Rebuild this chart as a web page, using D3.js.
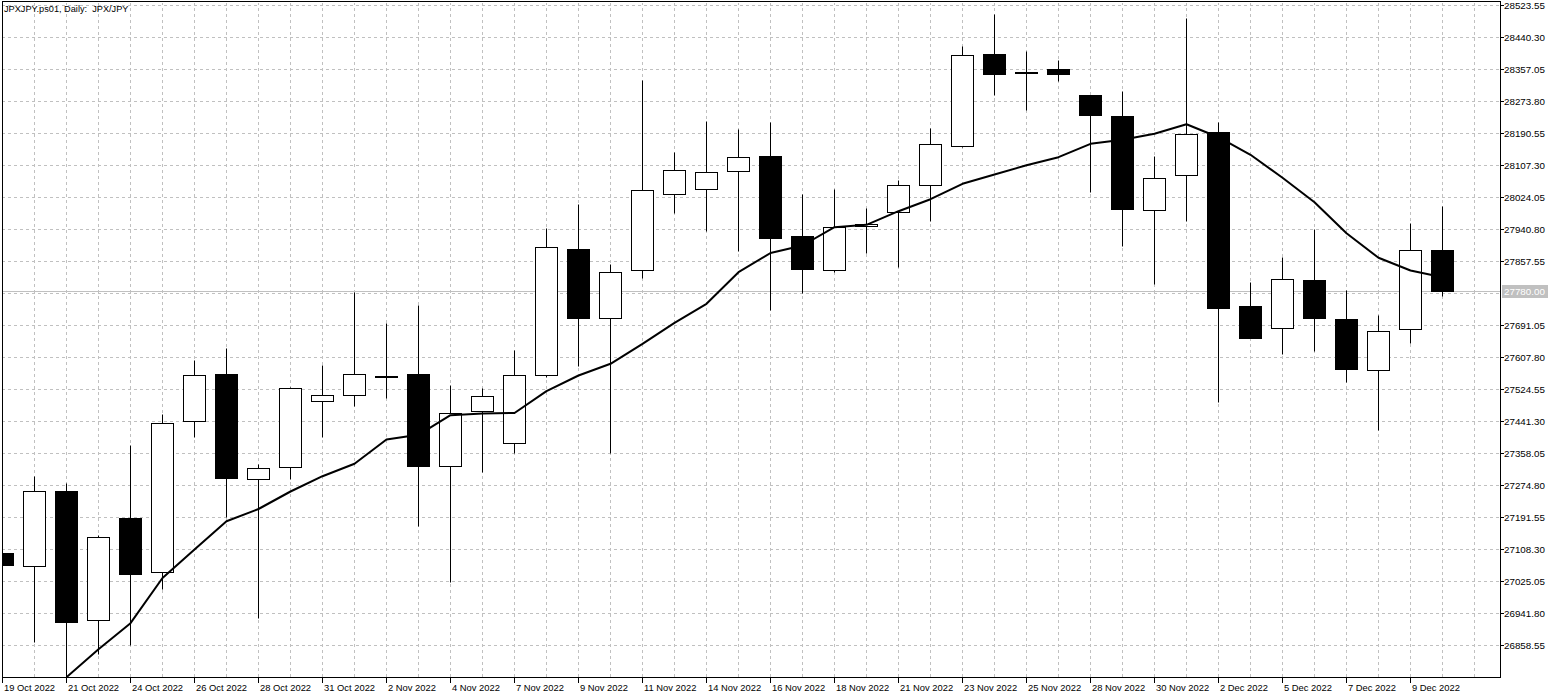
<!DOCTYPE html>
<html><head><meta charset="utf-8">
<script src="https://cdn.jsdelivr.net/npm/d3@7"></script>
<style>html,body{margin:0;padding:0;background:#fff;overflow:hidden}</style>
</head><body><svg id="c" width="1558" height="698"></svg>
<script>
const title = "JPXJPY.ps01, Daily:  JPX/JPY";
const dates = ["19 Oct 2022","20 Oct 2022","21 Oct 2022","23 Oct 2022","24 Oct 2022","25 Oct 2022","26 Oct 2022","27 Oct 2022","28 Oct 2022","30 Oct 2022",
"31 Oct 2022","1 Nov 2022","2 Nov 2022","3 Nov 2022","4 Nov 2022","6 Nov 2022","7 Nov 2022","8 Nov 2022","9 Nov 2022","10 Nov 2022",
"11 Nov 2022","13 Nov 2022","14 Nov 2022","15 Nov 2022","16 Nov 2022","17 Nov 2022","18 Nov 2022","20 Nov 2022","21 Nov 2022","22 Nov 2022",
"23 Nov 2022","24 Nov 2022","25 Nov 2022","27 Nov 2022","28 Nov 2022","29 Nov 2022","30 Nov 2022","1 Dec 2022","2 Dec 2022","4 Dec 2022",
"5 Dec 2022","6 Dec 2022","7 Dec 2022","8 Dec 2022","9 Dec 2022","11 Dec 2022"];
const openVals = [27097.89,27064.85,27258.41,26922.81,27189.73,27047.68,27440.52,27562.79,27289.63,27320.85,
27492.55,27508.16,27556.29,27562.79,27323.45,27466.54,27383.29,27560.19,27888.77,27708.48,
27833.36,28031.07,28044.08,28090.91,28130.19,27922.59,27832.84,27947.82,27984.25,28054.49,
28155.95,28396.07,28349.50,28357.05,28289.41,28234.78,27991.01,28080.50,28192.37,27740.48,
27682.46,27808.12,27706.66,27573.20,27679.86,27886.17];
const highVals = [27110.00,27298.21,27280.78,27144.72,27378.86,27458.73,27600.00,27630.43,27329.43,27528.97,
27586.99,27776.12,27695.47,27743.08,27534.18,27527.15,27626.01,27942.62,28005.84,27849.75,
28328.43,28140.34,28221.77,28200.96,28218.65,28031.33,28044.86,27995.43,28068.28,28203.56,
28416.89,28500.14,28403.88,28380.46,28289.41,28299.82,28131.49,28489.73,28218.39,27802.14,
27867.96,27940.02,27781.32,27717.07,27956.41,28000.64];
const lowVals = [27050.00,26866.35,26767.50,26835.14,26858.55,27003.46,27400.46,27190.77,26928.01,27291.19,
27400.46,27480.32,27500.36,27168.14,27023.23,27308.62,27357.27,27554.99,27585.17,27357.27,
27814.10,27983.21,27936.38,27884.35,27730.85,27773.52,27828.41,27879.14,27841.16,27962.39,
28155.00,28289.41,28250.39,28325.83,28037.06,27896.57,27797.71,27962.39,27491.51,27657.20,
27616.39,27623.41,27542.76,27417.89,27645.00,27767.28];
const closeVals = [27067.46,27258.41,26919.17,27138.74,27044.04,27435.32,27560.19,27293.79,27318.25,27526.37,
27508.16,27562.79,27559.67,27325.01,27461.33,27505.56,27560.19,27893.19,27710.04,27828.15,
28041.48,28093.51,28088.31,28127.33,27918.17,27837.52,27945.22,27953.81,28054.49,28161.15,
28392.69,28344.82,28350.50,28344.82,28237.38,27992.83,28072.70,28187.17,27736.06,27658.01,
27809.94,27710.04,27577.36,27675.44,27885.39,27780.00];
const maVals = [null,null,26776.08,26848.92,26916.57,27034.16,27108.30,27181.94,27213.66,27259.19,
27298.99,27331.25,27394.47,27406.70,27457.69,27462.11,27463.41,27520.13,27560.97,27591.41,
27643.44,27698.07,27747.50,27829.71,27879.66,27899.17,27946.78,27953.03,27988.41,28019.63,
28059.69,28083.89,28108.08,28128.89,28163.75,28174.16,28189.77,28214.48,28180.92,28135.14,
28075.30,28011.82,27931.17,27867.18,27834.14,27816.71];
const yTickLabels = ["28523.55","28440.30","28357.05","28273.80","28190.55","28107.30","28024.05","27940.80","27857.55","27774.30",
"27691.05","27607.80","27524.55","27441.30","27358.05","27274.80","27191.55","27108.30","27025.05","26941.80","26858.55"];
const currentPrice = 27780.00;
const currentPriceLabel = "27780.00";

const svg = d3.select("#c");
const L = 2, T = 2, R = 1500, B = 677;
const x = d3.scaleLinear().domain([0, 46]).range([2.5, 1474.5]);
const y = d3.scaleLinear().domain([26858.55, 28523.55]).range([645.5, 5.5]);
const snap = v => Math.floor(v) + 0.5;
const gridColor = "#c0c0c0";
const font = "'Liberation Sans', Arial, sans-serif";

svg.append("defs").append("clipPath").attr("id","plot")
  .append("rect").attr("x", L+1).attr("y", T+1).attr("width", R-L-1).attr("height", B-T-1);

const g = svg.append("g").attr("clip-path","url(#plot)");

// vertical grid
const slots = d3.range(1, 47);
g.selectAll(".vg").data(slots).join("line")
  .attr("x1", d => snap(x(d))).attr("x2", d => snap(x(d)))
  .attr("y1", T).attr("y2", B)
  .attr("stroke", gridColor).attr("stroke-width", 1).attr("stroke-dasharray", "3,3");
// horizontal grid
const tickVals = yTickLabels.map(Number);
g.selectAll(".hg").data(tickVals).join("line")
  .attr("x1", L).attr("x2", R)
  .attr("y1", d => snap(y(d))).attr("y2", d => snap(y(d)))
  .attr("stroke", gridColor).attr("stroke-width", 1).attr("stroke-dasharray", "3,3");
// current price line
g.append("line").attr("x1", L).attr("x2", R)
  .attr("y1", snap(y(currentPrice))).attr("y2", snap(y(currentPrice)))
  .attr("stroke", gridColor).attr("stroke-width", 1);

const bars = dates.map((d, i) => ({i, d, o: openVals[i], h: highVals[i], l: lowVals[i], c: closeVals[i]}));
const cg = g.append("g");
cg.selectAll(".wick").data(bars).join("line")
  .attr("x1", d => snap(x(d.i))).attr("x2", d => snap(x(d.i)))
  .attr("y1", d => snap(y(d.h))).attr("y2", d => snap(y(d.l)))
  .attr("stroke", "#000").attr("stroke-width", 1);
cg.selectAll(".body").data(bars).join("rect")
  .attr("x", d => snap(x(d.i)) - 11)
  .attr("width", 22)
  .attr("y", d => snap(y(Math.max(d.o, d.c))))
  .attr("height", d => Math.max(1, snap(y(Math.min(d.o, d.c))) - snap(y(Math.max(d.o, d.c)))))
  .attr("fill", d => d.c >= d.o ? "#fff" : "#000")
  .attr("stroke", "#000").attr("stroke-width", 1);

// moving average
const line = d3.line().defined(d => d != null).x((d, i) => x(i)).y(d => y(d));
g.append("path").datum(maVals).attr("d", line)
  .attr("fill", "none").attr("stroke", "#000").attr("stroke-width", 2).attr("stroke-linejoin", "round");

// frame
svg.append("line").attr("x1", L+0.5).attr("x2", L+0.5).attr("y1", T).attr("y2", B+1).attr("stroke","#000");
svg.append("line").attr("x1", L).attr("x2", R+1).attr("y1", T-0.5).attr("y2", T-0.5).attr("stroke","#000");
svg.append("line").attr("x1", R+0.5).attr("x2", R+0.5).attr("y1", T-1).attr("y2", B+1).attr("stroke","#000");
svg.append("line").attr("x1", L).attr("x2", R+1).attr("y1", B+0.5).attr("y2", B+0.5).attr("stroke","#000");

// right axis
const ra = svg.append("g");
tickVals.forEach((v, k) => {
  if (Math.abs(v - currentPrice) < 30) return;
  const yy = snap(y(v));
  ra.append("line").attr("x1", R).attr("x2", R+4).attr("y1", yy).attr("y2", yy).attr("stroke","#000");
  ra.append("text").attr("x", R+4).attr("y", yy).attr("dy","0.36em")
    .attr("font-family", font).attr("font-size", "9.8px").attr("fill","#000").text(yTickLabels[k]);
});
const cpY = snap(y(currentPrice));
ra.append("rect").attr("x", R+2).attr("y", cpY-6.5).attr("width", 46).attr("height", 13).attr("fill", gridColor);
ra.append("text").attr("x", R+4).attr("y", cpY).attr("dy","0.36em")
  .attr("font-family", font).attr("font-size", "9.8px").attr("fill","#fff").text(currentPriceLabel);

// bottom axis
const ba = svg.append("g");
bars.filter(d => d.i % 2 === 0).forEach(d => {
  const xx = snap(x(d.i));
  ba.append("line").attr("x1", xx).attr("x2", xx).attr("y1", B).attr("y2", B+6).attr("stroke","#000");
  ba.append("text").attr("x", xx + 1.5).attr("y", 690.5)
    .attr("font-family", font).attr("font-size", "9.4px").attr("fill","#000").text(d.d);
});

// title
svg.append("text").attr("x", 4).attr("y", 12).attr("font-family", font).attr("font-size","9.2px")
  .attr("fill","#000").text(title).attr("xml:space","preserve").style("white-space","pre");
</script>
</body></html>
